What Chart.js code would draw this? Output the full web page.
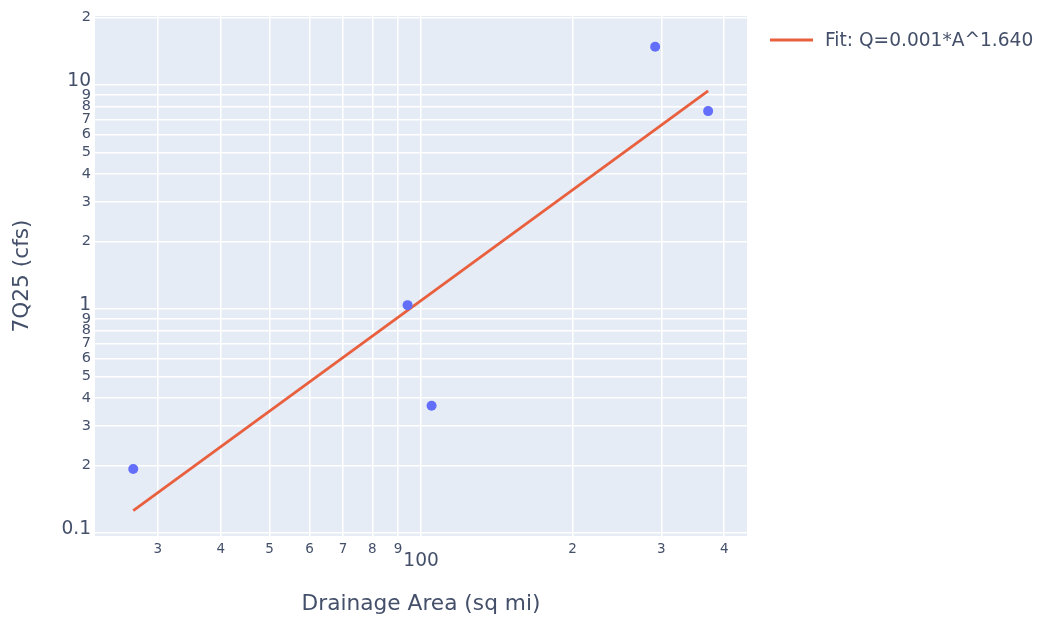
<!DOCTYPE html>
<html>
<head>
<meta charset="utf-8">
<title>7Q25 vs Drainage Area</title>
<script src="https://cdn.jsdelivr.net/npm/chart.js@4/dist/chart.umd.min.js"></script>
<style>
  html, body { margin: 0; padding: 0; background: #ffffff; }
  #wrap { width: 1039px; height: 622px; }
</style>
</head>
<body>
<div id="wrap"><canvas id="chart" width="1039" height="622"></canvas></div>
<script>
// Observed low-flow statistic (7Q25, cfs) against drainage area (sq mi)
const drainageArea = [26.8, 94.0, 104.9, 291.7, 371.7];
const q7q25 = [0.193, 1.04, 0.37, 14.8, 7.64];

// Power-law fit Q = c * A^b
const fitCoef = 0.000573;
const fitExp = 1.640;

// Log-axis ticks and their labels (leading digit for minor ticks)
const xTicks = [30, 40, 50, 60, 70, 80, 90, 100, 200, 300, 400];
const xTickLabels = ['3', '4', '5', '6', '7', '8', '9', '100', '2', '3', '4'];
const yTicks = [0.1, 0.2, 0.3, 0.4, 0.5, 0.6, 0.7, 0.8, 0.9, 1, 2, 3, 4, 5, 6, 7, 8, 9, 10, 20];
const yTickLabels = ['0.1', '2', '3', '4', '5', '6', '7', '8', '9', '1', '2', '3', '4', '5', '6', '7', '8', '9', '10', '2'];

const FONT = '"DejaVu Sans", sans-serif';
const TEXT = '#44506a';
const isDecade = v => Math.abs(Math.log10(v) - Math.round(Math.log10(v))) < 1e-9;

const observed = drainageArea.map((a, i) => ({ x: a, y: q7q25[i] }));
const fitAreas = [...drainageArea].sort((a, b) => a - b);
const fitLine = fitAreas.map(a => ({ x: a, y: fitCoef * Math.pow(a, fitExp) }));
const fitLabel = 'Fit: Q=' + fitCoef.toFixed(3) + '*A^' + fitExp.toFixed(3);

// Plot background and canvas fill
const backgroundPlugin = {
  id: 'plotBackground',
  beforeDraw(chart) {
    const { ctx, chartArea: a } = chart;
    ctx.save();
    ctx.fillStyle = '#ffffff';
    ctx.fillRect(0, 0, chart.width, chart.height);
    ctx.fillStyle = '#e5ecf6';
    ctx.fillRect(a.left, a.top, a.right - a.left, a.bottom - a.top);
    ctx.restore();
  }
};

// Legend entry for the fit line, placed to the right of the plot
const fitLegendPlugin = {
  id: 'fitLegend',
  afterDraw(chart) {
    const { ctx, chartArea: a } = chart;
    const ds = chart.data.datasets.find(d => d.showInLegend);
    if (!ds) return;
    const x0 = a.right + 23, y0 = 40;
    ctx.save();
    ctx.strokeStyle = ds.borderColor;
    ctx.lineWidth = ds.borderWidth;
    ctx.beginPath();
    ctx.moveTo(x0, y0);
    ctx.lineTo(x0 + 43, y0);
    ctx.stroke();
    ctx.fillStyle = TEXT;
    ctx.font = '18.6px ' + FONT;
    ctx.textBaseline = 'middle';
    ctx.textAlign = 'left';
    ctx.fillText(ds.label, x0 + 55, y0 + 1);
    ctx.restore();
  }
};

new Chart(document.getElementById('chart'), {
  type: 'scatter',
  data: {
    datasets: [
      {
        label: 'Observed',
        data: observed,
        pointRadius: 5,
        pointHoverRadius: 5,
        backgroundColor: '#636efa',
        borderWidth: 0,
        order: 1
      },
      {
        type: 'line',
        label: fitLabel,
        showInLegend: true,
        data: fitLine,
        borderColor: '#e9603f',
        borderWidth: 2.8,
        pointRadius: 0,
        fill: false,
        tension: 0,
        order: 2
      }
    ]
  },
  options: {
    responsive: false,
    animation: false,
    events: [],
    layout: { padding: { left: 0, right: 292, top: 16, bottom: 0 } },
    plugins: {
      legend: { display: false },
      tooltip: { enabled: false }
    },
    scales: {
      x: {
        type: 'logarithmic',
        min: 22.5,
        max: 444,
        bounds: 'data',
        afterBuildTicks(scale) {
          scale.ticks = xTicks.map(v => ({ value: v, major: isDecade(v) }));
        },
        afterFit(scale) { scale.height = 86; },
        grid: { color: '#ffffff', lineWidth: 1.5, drawTicks: false },
        border: { display: false },
        ticks: {
          autoSkip: false,
          maxRotation: 0,
          padding: 5,
          color: TEXT,
          font: ctx => {
            const major = ctx.tick && isDecade(ctx.tick.value);
            return major
              ? { family: FONT, size: 18.6, lineHeight: 2.2 }
              : { family: FONT, size: 13.5, lineHeight: 1.2 };
          },
          callback: (value, index) => xTickLabels[index]
        },
        title: {
          display: true,
          text: 'Drainage Area (sq mi)',
          color: TEXT,
          font: { family: FONT, size: 21.7, lineHeight: 1.2 },
          padding: { top: 0, bottom: 5 }
        }
      },
      y: {
        type: 'logarithmic',
        min: 0.097,
        max: 20.3,
        bounds: 'data',
        afterBuildTicks(scale) {
          scale.ticks = yTicks.map(v => ({ value: v, major: isDecade(v) }));
        },
        afterFit(scale) { scale.width = 95; },
        grid: { color: '#ffffff', lineWidth: 1.5, drawTicks: false },
        border: { display: false },
        ticks: {
          autoSkip: false,
          padding: 4,
          color: TEXT,
          font: ctx => {
            const major = ctx.tick && isDecade(ctx.tick.value);
            return major
              ? { family: FONT, size: 18.6, lineHeight: 0.43 }
              : { family: FONT, size: 14.5 };
          },
          // decade labels sit slightly above their grid line
          callback: (value, index) => isDecade(yTicks[index]) ? [yTickLabels[index], ''] : yTickLabels[index]
        },
        title: {
          display: true,
          text: '7Q25 (cfs)',
          color: TEXT,
          font: { family: FONT, size: 21.7, lineHeight: 1.2 },
          padding: { top: 9, bottom: 0 }
        }
      }
    }
  },
  plugins: [backgroundPlugin, fitLegendPlugin]
});
</script>
</body>
</html>
